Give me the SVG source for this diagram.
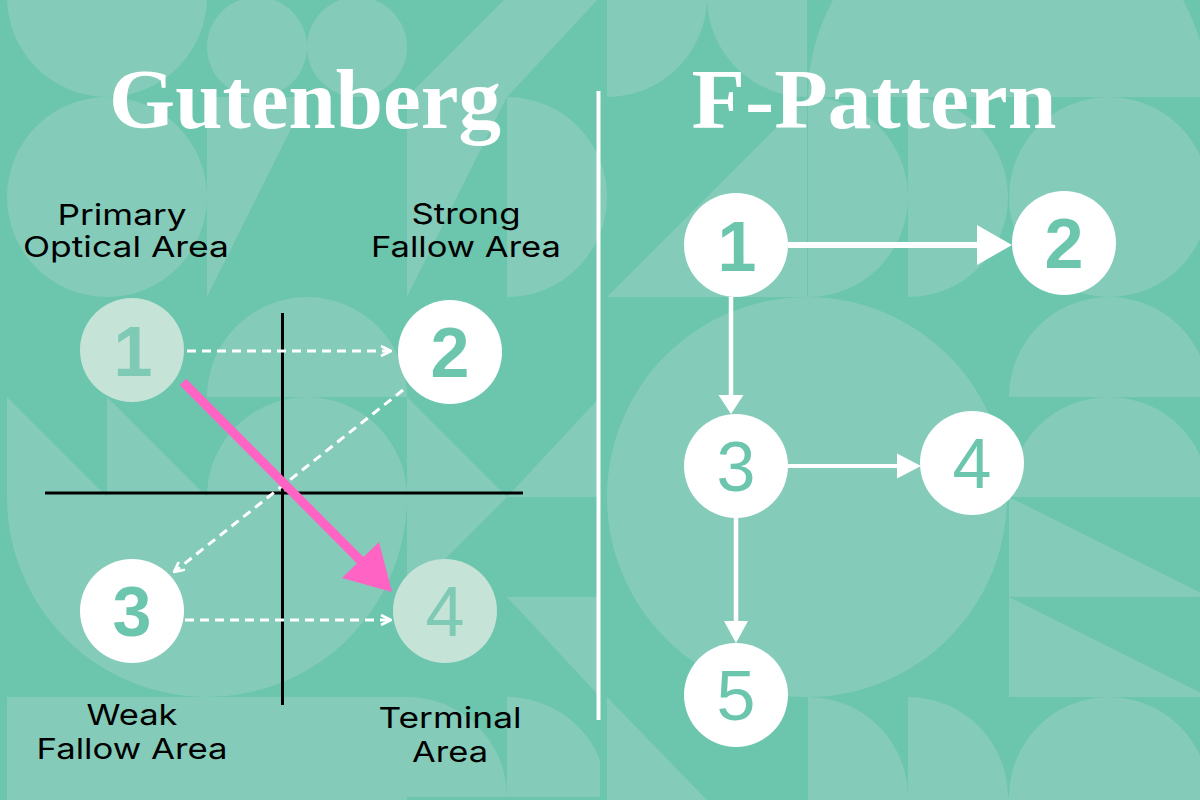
<svg xmlns="http://www.w3.org/2000/svg" width="1200" height="800" viewBox="0 0 1200 800">
  <defs>
    <style>
      .pat { fill: #84CCB9; }
      .title { font-family: "Liberation Serif", "DejaVu Serif", serif; font-weight: bold; font-size: 84px; fill: #ffffff; text-anchor: middle; }
      .lbl { font-family: "Inter", "Open Sans", "Liberation Sans", sans-serif; font-size: 29px; fill: #000000; text-anchor: middle; }
      .num { font-family: "Liberation Sans", "Arial", sans-serif; font-size: 70px; text-anchor: middle; }
      .white { fill: #ffffff; }
      .pale { fill: #C6E3D8; }
      .numw { fill: #6CC5AD; }
      .nump { fill: #7FCAB4; }
      .dash { stroke: #ffffff; stroke-width: 3; stroke-dasharray: 9 6; fill: none; }
      .solid { stroke: #ffffff; fill: none; }
      .axis { stroke: #000000; stroke-width: 3; }
    </style>
    <marker id="chev" viewBox="0 0 12 12" refX="11" refY="6" markerWidth="12" markerHeight="12" markerUnits="userSpaceOnUse" orient="auto">
      <path d="M1,1 L11,6 L1,11" fill="none" stroke="#ffffff" stroke-width="2.6"/>
    </marker>
    <filter id="glow" x="-300%" y="-5%" width="700%" height="110%">
      <feGaussianBlur stdDeviation="3"/>
    </filter>
  </defs>

  <!-- background -->
  <rect x="0" y="0" width="1200" height="800" fill="#6CC5AD"/>
  <g id="pattern">
    <!-- left panel -->
    <path class="pat" d="M7,-3 A100,100 0 0 0 207,-3 Z"/>
    <circle class="pat" cx="257" cy="47" r="50"/>
    <circle class="pat" cx="357" cy="47" r="50"/>
    <path class="pat" d="M407,97 L507,-3 L507,97 Z"/>
    <path class="pat" d="M507,-3 L600,-3 L507,97 Z"/>
    <circle class="pat" cx="107" cy="197" r="100"/>
    <path class="pat" d="M207,97 L307,97 L207,297 Z"/>
    <path class="pat" d="M407,97 L507,97 L407,297 Z"/>
    <path class="pat" d="M507,97 A100,100 0 0 1 507,297 Z"/>
    <path class="pat" d="M207,397 A100,100 0 0 1 407,397 Z"/>
    <path class="pat" d="M7,397 L107,497 L7,497 Z"/>
    <path class="pat" d="M107,397 L207,497 L107,497 Z"/>
    <path class="pat" d="M207,497 A100,100 0 0 1 407,497 Z"/>
    <path class="pat" d="M7,497 A200,200 0 0 0 407,497 Z"/>
    <path class="pat" d="M407,397 L507,497 L407,497 Z"/>
    <path class="pat" d="M507,497 L600,397 L600,497 Z"/>
    <path class="pat" d="M407,497 L507,497 L407,597 Z"/>
    <path class="pat" d="M507,597 L600,597 L600,697 Z"/>
    <rect class="pat" x="7" y="697" width="400" height="103"/>
    <path class="pat" d="M407,797 L407,697 A100,100 0 0 1 507,797 Z"/>
    <path class="pat" d="M507,797 L507,697 A100,100 0 0 1 600,760 L600,797 Z"/>
    <!-- right panel -->
    <path class="pat" d="M607,-3 L707,-3 A100,100 0 0 1 607,97 Z"/>
    <path class="pat" d="M807,-3 L807,97 A100,100 0 0 1 707,-3 Z"/>
    <path class="pat" d="M808,97 A200,200 0 0 1 1208,97 Z"/>
    <path class="pat" d="M808,97 A100,100 0 0 1 808,297 Z"/>
    <path class="pat" d="M908,97 A100,100 0 0 1 908,297 Z"/>
    <circle class="pat" cx="1109" cy="197" r="100"/>
    <path class="pat" d="M607,297 L807,97 L807,297 Z"/>
    <circle class="pat" cx="807" cy="497" r="200"/>
    <path class="pat" d="M1009,397 A100,100 0 0 1 1209,397 Z"/>
    <path class="pat" d="M1009,497 A100,100 0 0 1 1209,497 Z"/>
    <path class="pat" d="M1009,497 L1009,597 L1209,597 Z"/>
    <path class="pat" d="M1009,597 L1009,697 L1209,697 Z"/>
    <path class="pat" d="M607,697 L607,800 L707,800 L607,697 Z"/>
    <path class="pat" d="M808,797 L808,697 A100,100 0 0 1 908,797 Z"/>
    <path class="pat" d="M908,797 L908,697 A100,100 0 0 1 1008,797 Z"/>
    <path class="pat" d="M1009,797 A100,100 0 0 1 1209,797 Z"/>
    <rect class="pat" x="808" y="797" width="400" height="3"/>
  </g>

  <!-- divider -->
  <g id="divider">
    <line x1="598.5" y1="91" x2="598.5" y2="720" stroke="#ffffff" stroke-width="9" opacity="0.7" filter="url(#glow)"/>
    <line x1="598.5" y1="91" x2="598.5" y2="720" stroke="#ffffff" stroke-width="4"/>
  </g>

  <!-- titles -->
  <text class="title" x="305" y="128" textLength="392" lengthAdjust="spacingAndGlyphs">Gutenberg</text>
  <text class="title" x="874" y="128" textLength="365" lengthAdjust="spacingAndGlyphs">F-Pattern</text>

  <!-- Gutenberg axes -->
  <g id="axes">
    <line class="axis" x1="282.5" y1="313" x2="282.5" y2="705"/>
    <line class="axis" x1="45" y1="493" x2="523" y2="493"/>
  </g>

  <!-- connectors -->
  <g id="connectors">
    <line class="dash" x1="187" y1="351" x2="391" y2="351" marker-end="url(#chev)"/>
    <line class="dash" x1="403" y1="390" x2="174" y2="572" marker-end="url(#chev)"/>
    <line class="dash" x1="185" y1="620" x2="391" y2="620" marker-end="url(#chev)"/>
    <line x1="183" y1="382" x2="362" y2="562" stroke="#FF63C4" stroke-width="9"/>
    <polygon points="392,592 342,578 379,542" fill="#FF63C4"/>

    <line class="solid" x1="788" y1="245" x2="980" y2="245" stroke-width="6"/>
    <polygon points="1012,245 977,225 977,265" fill="#ffffff"/>
    <line class="solid" x1="731" y1="297" x2="731" y2="397" stroke-width="4.5"/>
    <polygon points="731,414 718.5,395 743.5,395" fill="#ffffff"/>
    <line class="solid" x1="788" y1="466" x2="899" y2="466" stroke-width="4"/>
    <polygon points="921,466 897,453.5 897,478.5" fill="#ffffff"/>
    <line class="solid" x1="736" y1="517" x2="736" y2="623" stroke-width="4.5"/>
    <polygon points="736,643 724,621 748,621" fill="#ffffff"/>
  </g>

  <!-- Gutenberg nodes -->
  <g id="g-node-1">
    <circle class="pale" cx="132" cy="350" r="52"/>
    <text class="num nump" x="133" y="376" font-weight="bold">1</text>
  </g>
  <g id="g-node-2">
    <circle class="white" cx="450" cy="352" r="52"/>
    <text class="num numw" x="450" y="377" font-weight="bold">2</text>
  </g>
  <g id="g-node-3">
    <circle class="white" cx="132" cy="611" r="52"/>
    <text class="num numw" x="132" y="636" font-weight="bold">3</text>
  </g>
  <g id="g-node-4">
    <circle class="pale" cx="445" cy="611" r="52"/>
    <text class="num nump" x="445" y="636">4</text>
  </g>

  <!-- Gutenberg labels -->
  <g id="g-labels">
    <text class="lbl" x="122" y="225" textLength="129" lengthAdjust="spacingAndGlyphs">Primary</text>
    <text class="lbl" x="126" y="257" textLength="206" lengthAdjust="spacingAndGlyphs">Optical Area</text>
    <text class="lbl" x="466" y="224" textLength="109" lengthAdjust="spacingAndGlyphs">Strong</text>
    <text class="lbl" x="466" y="257" textLength="190" lengthAdjust="spacingAndGlyphs">Fallow Area</text>
    <text class="lbl" x="132" y="725" textLength="91" lengthAdjust="spacingAndGlyphs">Weak</text>
    <text class="lbl" x="132" y="759" textLength="191" lengthAdjust="spacingAndGlyphs">Fallow Area</text>
    <text class="lbl" x="450" y="728" textLength="143" lengthAdjust="spacingAndGlyphs">Terminal</text>
    <text class="lbl" x="450" y="762" textLength="76" lengthAdjust="spacingAndGlyphs">Area</text>
  </g>

  <!-- F-Pattern nodes -->
  <g id="f-node-1">
    <circle class="white" cx="736" cy="245" r="52"/>
    <text class="num numw" x="737" y="271" font-weight="bold">1</text>
  </g>
  <g id="f-node-2">
    <circle class="white" cx="1064" cy="243" r="52"/>
    <text class="num numw" x="1064" y="268" font-weight="bold">2</text>
  </g>
  <g id="f-node-3">
    <circle class="white" cx="736" cy="466" r="52"/>
    <text class="num numw" x="736" y="491">3</text>
  </g>
  <g id="f-node-4">
    <circle class="white" cx="972" cy="463" r="52"/>
    <text class="num numw" x="972" y="488">4</text>
  </g>
  <g id="f-node-5">
    <circle class="white" cx="736" cy="695" r="52"/>
    <text class="num numw" x="736" y="720">5</text>
  </g>
</svg>
